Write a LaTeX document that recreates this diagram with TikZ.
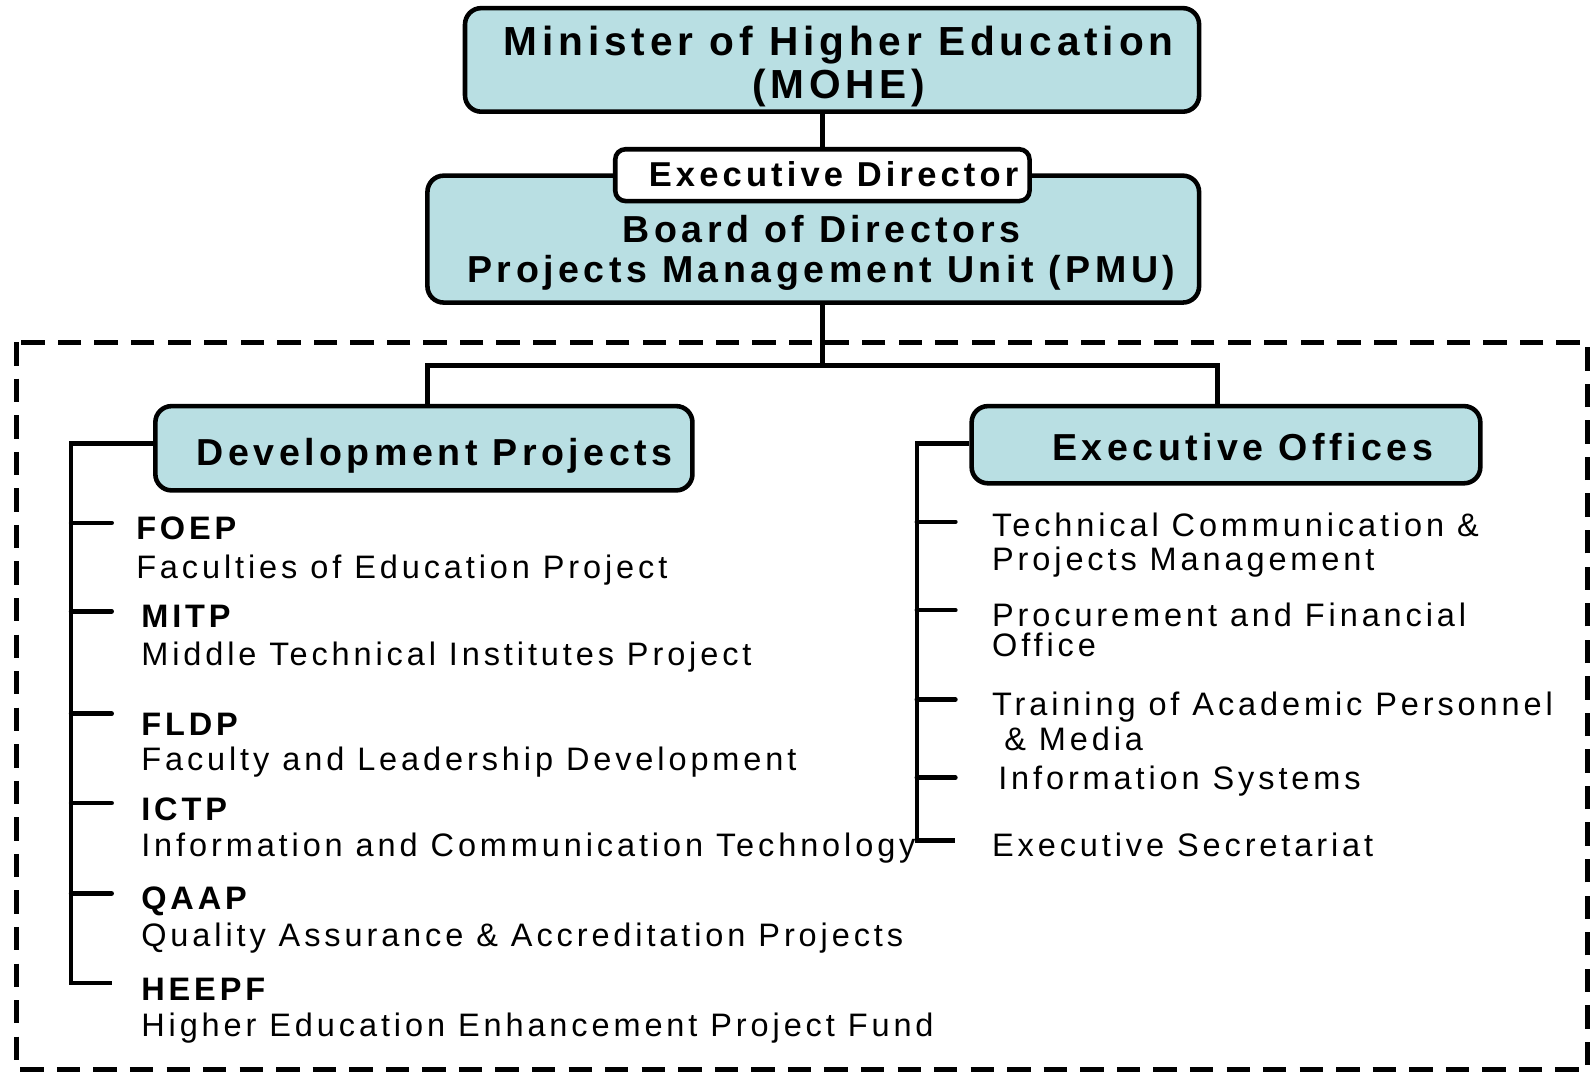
\documentclass[tikz,border=0pt]{standalone}
\usepackage{fontspec}
\setmainfont[LetterSpace=12]{Liberation Sans}
\definecolor{boxblue}{RGB}{185,223,227}
\begin{document}
\begin{tikzpicture}[x=1pt,y=-1pt,
  box/.style={draw, line width=4.5pt, rounded corners=16pt, fill=boxblue, inner sep=0pt},
  wbox/.style={draw, line width=4.5pt, rounded corners=10pt, fill=white, inner sep=0pt},
  conn/.style={line width=4.5pt},
  tick/.style={line width=4.5pt, line cap=round},
  frame/.style={line width=5pt, dash pattern=on 23pt off 13pt},
  htext/.style={font=\bfseries\fontsize{37}{39}\selectfont, align=center, anchor=base, inner sep=0pt},
  lbl/.style={font=\bfseries\fontsize{32}{34}\selectfont, anchor=base west, inner sep=0pt},
  desc/.style={font=\fontsize{32}{34}\selectfont, anchor=base west, inner sep=0pt, align=left}]
\useasboundingbox (0,0) rectangle (1568,1058);
% dashed frame
\draw[frame] (16,337) rectangle (1564,1053);
% top boxes
\node[box, minimum width=723pt, minimum height=102pt] (mohe) at (819.5,59) {};
\node[htext, font=\bfseries\fontsize{40}{42}\selectfont] (mohet) at (826,97) {Minister of Higher Education\\(MOHE)};
\node[box, minimum width=760pt, minimum height=125pt] (board) at (801,235.5) {};
\node[wbox, minimum width=408pt, minimum height=51pt] (ed) at (810,172.5) {};
\node[htext, font=\bfseries\fontsize{34}{36}\selectfont] (edt) at (821,184) {Executive Director};
\node[htext] (boardt) at (809,278) {Board of Directors\\Projects Management Unit (PMU)};
\draw[conn] (ed.north |- mohe.south) -- (ed.north);
% bus
\coordinate (busc) at (810,360);
\coordinate (busL) at (421,360);
\coordinate (busR) at (1199,360);
\node[box, minimum width=529pt, minimum height=83pt] (dev) at (417.5,441.5) {};
\node[htext] (devt) at (428,458) {Development Projects};
\node[box, minimum width=501pt, minimum height=76pt] (exo) at (1207.5,438) {};
\node[htext] (exot) at (1224,454) {Executive Offices};
\draw[conn] (board.south -| busc) -- (busc);
\draw[conn] (busL |- dev.north) -- (busL) -- (busR) -- (busR |- exo.north);
% left bracket
\coordinate (lt) at (70,437);
\coordinate (lb) at (70,968);
\draw[conn] (dev.west |- lt) -- (lt) -- (lb) -- ++(40,0);
\foreach \y in {515,602,703,791,880} \draw[tick] (70,\y) -- ++(40,0);
% right bracket
\coordinate (rt) at (903,437);
\coordinate (rb) at (903,828);
\draw[conn] (exo.west |- rt) -- (rt) -- (rb) -- ++(38,0);
\foreach \y in {514,601,689,766} \draw[tick] (903,\y) -- ++(38,0);
% left items
\node[lbl] (foep) at (134,531) {FOEP};
\node[desc] (foepd) at (134,570) {Faculties of Education Project};
\node[lbl] (mitp) at (139,618) {MITP};
\node[desc] (mitpd) at (139,655) {Middle Technical Institutes Project};
\node[lbl] (fldp) at (139,724) {FLDP};
\node[desc] (fldpd) at (139,759) {Faculty and Leadership Development};
\node[lbl] (ictp) at (139,808) {ICTP};
\node[desc] (ictpd) at (139,844) {Information and Communication Technology};
\node[lbl] (qaap) at (139,896) {QAAP};
\node[desc] (qaapd) at (139,932) {Quality Assurance \& Accreditation Projects};
\node[lbl] (heepf) at (139,985) {HEEPF};
\node[desc] (heepfd) at (139,1021) {Higher Education Enhancement Project Fund};
% right items
\node[desc] (tcpm) at (977,562) {Technical Communication \&\\Projects Management};
\node[desc] (pfo) at (977,647) {Procurement and Financial\\[-4pt]Office};
\node[desc] (tap) at (977,739) {Training of Academic Personnel\\\hspace*{12pt}\& Media};
\node[desc] (is) at (983,778) {Information Systems};
\node[desc] (es) at (977,844) {Executive Secretariat};
\end{tikzpicture}
\end{document}
